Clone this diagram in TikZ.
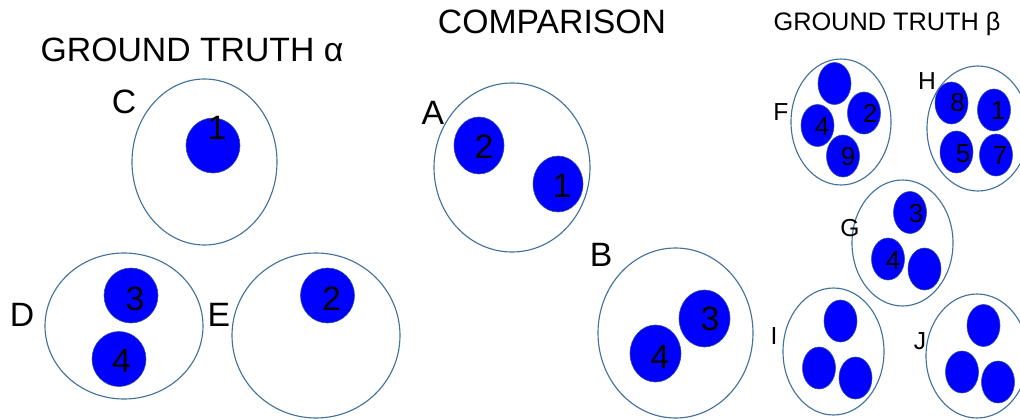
\documentclass[tikz,border=0pt]{standalone}
\usepackage{fontspec}
\setmainfont{Liberation Sans}
\definecolor{mengenrand}{RGB}{65,113,156}
\definecolor{punktrand}{RGB}{47,82,143}
\definecolor{punktblau}{RGB}{0,0,255}
\tikzset{
    menge/.style={draw=mengenrand, line width=0.8pt},
    punkt/.style={fill=punktblau, draw=punktrand, line width=0.4pt},
    titel/.style={inner sep=0pt, font=\fontsize{24}{29}\selectfont},
    kleintitel/.style={inner sep=0pt, font=\fontsize{18}{22}\selectfont},
    mengenname/.style={inner sep=0pt, font=\fontsize{24}{29}\selectfont},
    kleinmengenname/.style={inner sep=0pt, font=\fontsize{17.5}{21}\selectfont},
    ziffer/.style={inner sep=0pt, font=\fontsize{24}{29}\selectfont},
    kleinziffer/.style={inner sep=0pt, font=\fontsize{18.5}{22}\selectfont}
}

\begin{document}
\begin{tikzpicture}[x=0.025cm, y=-0.025cm]

\useasboundingbox (0,0) rectangle (1020,420);
\clip (0,0) rectangle (1020,420);

% Titel
\node[titel] (alpha) at (192,50) {GROUND TRUTH α};
\node[titel] (vergleich) at (552,22) {COMPARISON};
\node[kleintitel] (beta) at (887,24) {GROUND TRUTH β};

% Mittelpunkte der Mengen
\coordinate (C) at (204.5,162);
\coordinate (D) at (124,326);
\coordinate (E) at (316,335.5);
\coordinate (A) at (512,167.5);
\coordinate (B) at (675.5,333);
\coordinate (F) at (841,122);
\coordinate (H) at (978,128.5);
\coordinate (G) at (902.5,243);
\coordinate (I) at (833.5,351.5);
\coordinate (J) at (977,356);

% Mengen
\draw[menge] (C) ellipse [x radius=72.5, y radius=83];
\draw[menge] (D) ellipse [x radius=79, y radius=73];
\draw[menge] (E) ellipse [x radius=84, y radius=82.5];
\draw[menge] (A) ellipse [x radius=78, y radius=84.5];
\draw[menge] (B) ellipse [x radius=77.5, y radius=85];
\draw[menge] (F) ellipse [x radius=50, y radius=63];
\draw[menge] (H) ellipse [x radius=51, y radius=62.5];
\draw[menge] (G) ellipse [x radius=50.5, y radius=63];
\draw[menge] (I) ellipse [x radius=50.5, y radius=63.5];
\draw[menge] (J) ellipse [x radius=51, y radius=62];

% Namen der Mengen
\node[mengenname] (nC) at (124,102) {C};
\node[mengenname] (nD) at (22,315) {D};
\node[mengenname] (nE) at (219,315) {E};
\node[mengenname] (nA) at (433,113) {A};
\node[mengenname] (nB) at (601,255) {B};
\node[kleinmengenname] (nF) at (781,112) {F};
\node[kleinmengenname] (nH) at (927,81) {H};
\node[kleinmengenname] (nG) at (850,228) {G};
\node[kleinmengenname] (nI) at (774,336) {I};
\node[kleinmengenname] (nJ) at (920,341) {J};

% Punkte GROUND TRUTH alpha
\filldraw[punkt] (213,145.5) ellipse [x radius=27, y radius=27.5];
\filldraw[punkt] (131,295.5) ellipse [x radius=27, y radius=27.5];
\filldraw[punkt] (119,359) ellipse [x radius=27, y radius=27.5];
\filldraw[punkt] (327.5,295.5) ellipse [x radius=27, y radius=27.5];
\node[ziffer] (c1) at (217,127.5) {1};
\node[ziffer] (d3) at (135,298.5) {3};
\node[ziffer] (d4) at (121.5,361) {4};
\node[ziffer] (e2) at (331.5,298.5) {2};

% Punkte COMPARISON
\filldraw[punkt] (479,145.5) ellipse [x radius=25, y radius=28.5];
\filldraw[punkt] (558,184) ellipse [x radius=25, y radius=28];
\filldraw[punkt] (704.5,318.5) ellipse [x radius=25.5, y radius=28.5];
\filldraw[punkt] (655.5,353.5) ellipse [x radius=25.5, y radius=28.5];
\node[ziffer] (a2) at (484,147) {2};
\node[ziffer] (a1) at (562,186) {1};
\node[ziffer] (b3) at (710,319) {3};
\node[ziffer] (b4) at (660,356.5) {4};

% Punkte GROUND TRUTH beta
\foreach \p in {(834.5,83.5), (864,113), (817.5,125.5), (843,156),
                (951.5,103), (994,110), (956.5,152), (996,155),
                (910,212.5), (888,259), (924.5,269),
                (840.5,321), (819,368), (855.5,378),
                (983.5,325.5), (962,372), (998,382)}
    \filldraw[punkt] \p ellipse [x radius=16.5, y radius=21];
\node[kleinziffer] (f2) at (870,113) {2};
\node[kleinziffer] (f4) at (822,127) {4};
\node[kleinziffer] (f9) at (848,157) {9};
\node[kleinziffer] (h8) at (957.5,103) {8};
\node[kleinziffer] (h1) at (998,111) {1};
\node[kleinziffer] (h5) at (963,154) {5};
\node[kleinziffer] (h7) at (1000,155.5) {7};
\node[kleinziffer] (g3) at (916,214) {3};
\node[kleinziffer] (g4) at (893,260.5) {4};

\end{tikzpicture}
\end{document}
